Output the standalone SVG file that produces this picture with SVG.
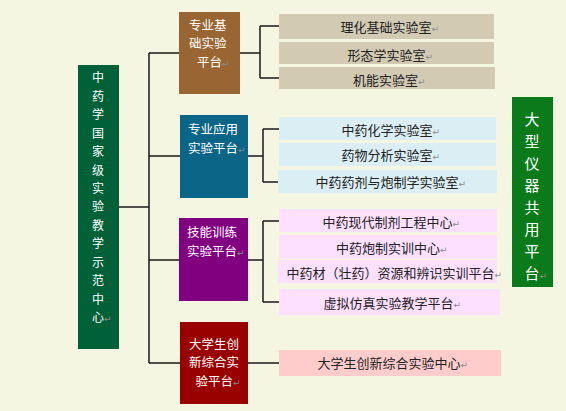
<svg xmlns="http://www.w3.org/2000/svg" width="566" height="411" viewBox="0 0 566 411">
<style>
text{font-family:"Noto Sans CJK SC","DejaVu Sans",sans-serif;font-size:13px}
text.n{font-size:12.5px}
text.v{font-size:12px}
text.big{font-size:15px}
.w{fill:#ffffff}
.k{fill:#222222}
tspan.m{fill:#8a8a8a;font-size:9px;font-family:"DejaVu Sans",sans-serif}
.ln{stroke:#1a1a1a;stroke-width:1.5;fill:none}
.tan{fill:#d3cab4}
.blu{fill:#daeef3}
.pnk{fill:#fde0ff}
.red{fill:#ffcccc}
</style>
<rect x="0" y="0" width="566" height="411" fill="#f5f6e2"/>

<g id="connectors" class="ln">
<path d="M119 207 H149 M149 53 V363 M149 53 H179 M149 156 H180 M149 260 H179 M149 363 H180"/>
<path d="M240 53 H260 M260 26 V78 M260 26 H279 M260 78 H279"/>
<path d="M248 156 H263 M263 129 V182 M263 129 H279 M263 182 H279"/>
<path d="M248 260 H263 M263 221 V302 M263 221 H279 M263 302 H279"/>
<path d="M248 363 H279"/>
</g>

<g id="center">
<rect x="78" y="65" width="41" height="284" fill="#006038"/>
<g text-anchor="middle">
<text class="v w" x="98" y="82.2">中</text>
<text class="v w" x="98" y="100.7">药</text>
<text class="v w" x="98" y="119.1">学</text>
<text class="v w" x="98" y="137.6">国</text>
<text class="v w" x="98" y="156.1">家</text>
<text class="v w" x="98" y="174.5">级</text>
<text class="v w" x="98" y="193">实</text>
<text class="v w" x="98" y="211.4">验</text>
<text class="v w" x="98" y="229.9">教</text>
<text class="v w" x="98" y="248.4">学</text>
<text class="v w" x="98" y="266.8">示</text>
<text class="v w" x="98" y="285.3">范</text>
<text class="v w" x="98" y="303.7">中</text>
</g>
<text class="v w" x="92" y="322.2">心<tspan class="m">↵</tspan></text>
</g>

<g id="platform-basic">
<rect x="179" y="12" width="61" height="82" fill="#996633"/>
<text class="n w" x="189" y="29.5">专业基</text>
<text class="n w" x="189" y="48">础实验</text>
<text class="n w" x="197" y="66.5">平台<tspan class="m">↵</tspan></text>
</g>

<g id="platform-applied">
<rect x="180" y="115" width="68" height="83" fill="#0b6586"/>
<text class="n w" x="188" y="133.5">专业应用</text>
<text class="n w" x="188" y="152.5">实验平台<tspan class="m">↵</tspan></text>
</g>

<g id="platform-skill">
<rect x="179" y="218" width="69" height="83" fill="#800080"/>
<text class="n w" x="187" y="236.5">技能训练</text>
<text class="n w" x="187" y="255.5">实验平台<tspan class="m">↵</tspan></text>
</g>

<g id="platform-innov">
<rect x="180" y="322" width="68" height="82" fill="#990000"/>
<text class="n w" x="189" y="348.5">大学生创</text>
<text class="n w" x="189" y="367">新综合实</text>
<text class="n w" x="195.5" y="385.5">验平台<tspan class="m">↵</tspan></text>
</g>

<g id="lab-1"><rect class="tan" x="279" y="14" width="215" height="25"/><text class="k" x="340.5" y="31.5">理化基础实验室<tspan class="m">↵</tspan></text></g>
<g id="lab-2"><rect class="tan" x="279" y="42" width="215" height="22"/><text class="k" x="347.5" y="59.5">形态学实验室<tspan class="m">↵</tspan></text></g>
<g id="lab-3"><rect class="tan" x="279" y="67" width="216" height="22"/><text class="k" x="353" y="84.5">机能实验室<tspan class="m">↵</tspan></text></g>

<g id="lab-4"><rect class="blu" x="279" y="117" width="217" height="23"/><text class="k" x="341.5" y="134.5">中药化学实验室<tspan class="m">↵</tspan></text></g>
<g id="lab-5"><rect class="blu" x="279" y="143" width="217" height="23"/><text class="k" x="341.5" y="159.5">药物分析实验室<tspan class="m">↵</tspan></text></g>
<g id="lab-6"><rect class="blu" x="278" y="170" width="219" height="23"/><text class="k" x="315.5" y="186.5">中药药剂与炮制学实验室<tspan class="m">↵</tspan></text></g>

<g id="lab-7"><rect class="pnk" x="279" y="209" width="218" height="23"/><text class="k" x="322.5" y="226.5">中药现代制剂工程中心<tspan class="m">↵</tspan></text></g>
<g id="lab-8"><rect class="pnk" x="279" y="235" width="218" height="24"/><text class="k" x="336" y="252.5">中药炮制实训中心<tspan class="m">↵</tspan></text></g>
<g id="lab-9"><rect class="pnk" x="278" y="260" width="219" height="23"/><text class="k" x="286.5" y="277.5">中药材（壮药）资源和辨识实训平台<tspan class="m">↵</tspan></text></g>
<g id="lab-10"><rect class="pnk" x="279" y="289" width="221" height="26"/><text class="k" x="323.5" y="307.5">虚拟仿真实验教学平台<tspan class="m">↵</tspan></text></g>

<g id="lab-11"><rect class="red" x="279" y="350" width="222" height="26"/><text class="k" x="317.5" y="367.5">大学生创新综合实验中心<tspan class="m">↵</tspan></text></g>

<g id="shared">
<rect x="512" y="97" width="41" height="190" fill="#0a7a1a"/>
<g text-anchor="middle">
<text class="big w" x="532" y="124.5">大</text>
<text class="big w" x="532" y="146.5">型</text>
<text class="big w" x="532" y="168.5">仪</text>
<text class="big w" x="532" y="190.5">器</text>
<text class="big w" x="532" y="212.5">共</text>
<text class="big w" x="532" y="234.5">用</text>
<text class="big w" x="532" y="256.5">平</text>
</g>
<text class="big w" x="524.5" y="278.5">台<tspan class="m">↵</tspan></text>
</g>
</svg>
